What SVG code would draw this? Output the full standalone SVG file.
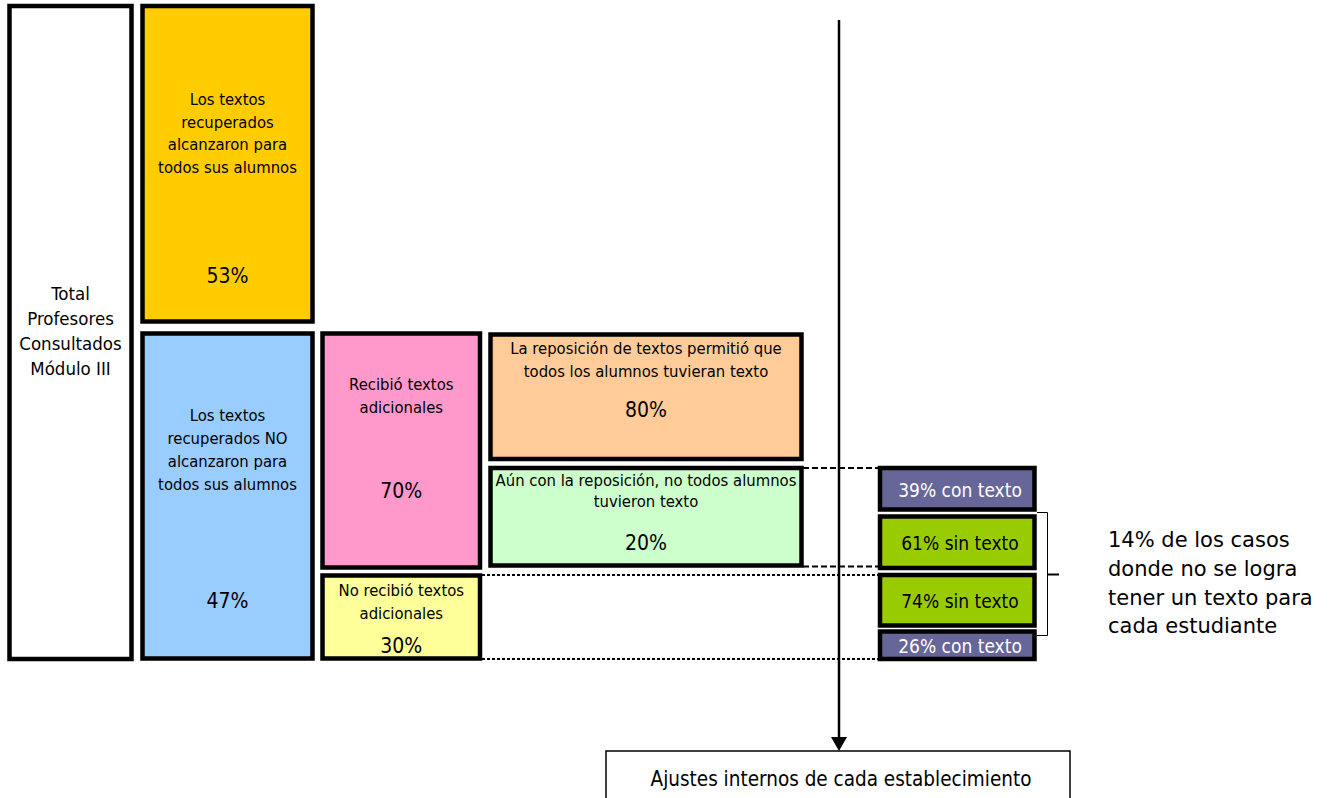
<svg xmlns="http://www.w3.org/2000/svg" width="1331" height="798" viewBox="0 0 1331 798">
<defs>
<style>
text{font-family:'DejaVu Sans Condensed','DejaVu Sans',sans-serif;font-stretch:condensed;fill:#000;text-anchor:middle}
.box{stroke:#000;stroke-width:4.5}
.t{font-size:16.5px}
.p{font-size:21px}
.s{font-size:18.5px}
.r{font-size:19px}
.w{fill:#fff}
.n{font-family:'DejaVu Sans',sans-serif;font-stretch:normal;font-size:21px;text-anchor:start}
.dash{stroke:#000;stroke-width:2;stroke-dasharray:6 3;fill:none}
.dot{stroke:#000;stroke-width:2;stroke-dasharray:3 2;fill:none}
</style>
</defs>
<rect width="1331" height="798" fill="#fff"/>

<g id="connectors">
<line class="dash" x1="803" y1="468" x2="878" y2="468"/>
<line class="dash" x1="803" y1="566.5" x2="878" y2="566.5"/>
<line class="dot" x1="482" y1="575" x2="878" y2="575"/>
<line class="dot" x1="482" y1="659" x2="878" y2="659"/>
<path d="M1037,512.5 H1047.5 V635.5 H1037" fill="none" stroke="#000" stroke-width="1"/>
<line x1="1047" y1="574.5" x2="1059" y2="574.5" stroke="#000" stroke-width="2"/>
<line x1="839" y1="20" x2="839" y2="737" stroke="#000" stroke-width="2.5"/>
<path d="M831,737 L847,737 L839,751 Z" fill="#000"/>
</g>

<g id="total">
<rect class="box" x="9.5" y="6" width="122" height="653" fill="#fff"/>
<text class="s" x="70.5" y="300">Total</text>
<text class="s" x="70.5" y="325">Profesores</text>
<text class="s" x="70.5" y="350">Consultados</text>
<text class="s" x="70.5" y="375">Módulo III</text>
</g>

<g id="alcanzaron">
<rect class="box" x="142.5" y="6" width="170" height="315.5" fill="#FFCC00"/>
<text class="t" x="227.5" y="105">Los textos</text>
<text class="t" x="227.5" y="127.7">recuperados</text>
<text class="t" x="227.5" y="150.4">alcanzaron para</text>
<text class="t" x="227.5" y="173">todos sus alumnos</text>
<text class="p" x="227.5" y="283">53%</text>
</g>

<g id="no-alcanzaron">
<rect class="box" x="142.5" y="333.5" width="170" height="325" fill="#99CCFF"/>
<text class="t" x="227.5" y="420.5">Los textos</text>
<text class="t" x="227.5" y="443.8">recuperados NO</text>
<text class="t" x="227.5" y="467">alcanzaron para</text>
<text class="t" x="227.5" y="490.3">todos sus alumnos</text>
<text class="p" x="227.5" y="608">47%</text>
</g>

<g id="recibio">
<rect class="box" x="322.5" y="333.5" width="157.5" height="234" fill="#FF99CC"/>
<text class="t" x="401.3" y="390">Recibió textos</text>
<text class="t" x="401.3" y="413.3">adicionales</text>
<text class="p" x="401.3" y="498.3">70%</text>
</g>

<g id="no-recibio">
<rect class="box" x="322.5" y="575.5" width="157.5" height="83" fill="#FFFF99"/>
<text class="t" x="401.3" y="596">No recibió textos</text>
<text class="t" x="401.3" y="619">adicionales</text>
<text class="p" x="401.3" y="653.3">30%</text>
</g>

<g id="reposicion-ok">
<rect class="box" x="490.5" y="334.5" width="311" height="124.5" fill="#FFCC99"/>
<text class="t" x="646" y="354.3">La reposición de textos permitió que</text>
<text class="t" x="646" y="376.7">todos los alumnos tuvieran texto</text>
<text class="p" x="646" y="416.7">80%</text>
</g>

<g id="reposicion-no">
<rect class="box" x="490.5" y="468" width="311" height="97.5" fill="#CCFFCC"/>
<text class="t" x="646" y="485.7">Aún con la reposición, no todos alumnos</text>
<text class="t" x="646" y="507.3">tuvieron texto</text>
<text class="p" x="646" y="550">20%</text>
</g>

<g id="con39">
<rect class="box" x="880" y="468" width="154.5" height="41.5" fill="#666699"/>
<text class="r w" x="960" y="496.7">39% con texto</text>
</g>
<g id="sin61">
<rect class="box" x="880" y="516.5" width="154.5" height="51.5" fill="#99CC00"/>
<text class="r" x="960" y="550">61% sin texto</text>
</g>
<g id="sin74">
<rect class="box" x="880" y="575" width="154.5" height="50.5" fill="#99CC00"/>
<text class="r" x="960" y="608.3">74% sin texto</text>
</g>
<g id="con26">
<rect class="box" x="880" y="631.5" width="154.5" height="27.5" fill="#666699"/>
<text class="r w" x="960" y="652.7">26% con texto</text>
</g>

<g id="nota">
<text class="n" x="1108" y="547">14% de los casos</text>
<text class="n" x="1108" y="576">donde no se logra</text>
<text class="n" x="1108" y="604.5">tener un texto para</text>
<text class="n" x="1108" y="633">cada estudiante</text>
</g>

<g id="ajustes">
<rect x="606" y="751" width="464" height="70" fill="#fff" stroke="#000" stroke-width="1.5"/>
<text x="841" y="786" style="font-size:20.5px">Ajustes internos de cada establecimiento</text>
</g>
</svg>
